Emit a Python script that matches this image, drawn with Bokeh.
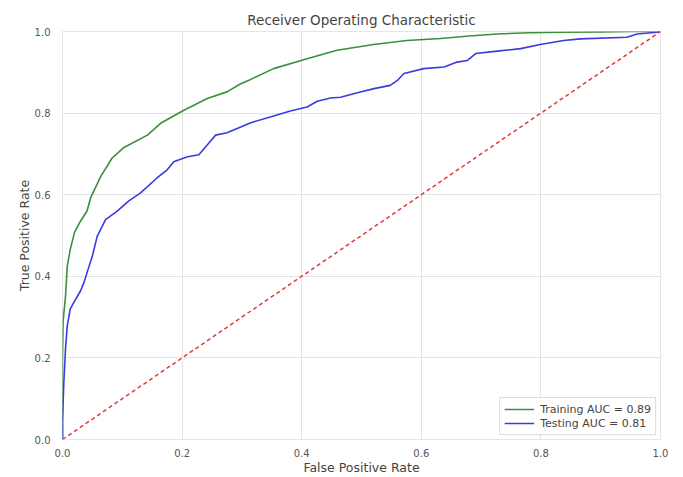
from bokeh.plotting import figure
from bokeh.models import Legend, LegendItem, FixedTicker, CustomJSTickFormatter
from bokeh.embed import file_html
from bokeh.resources import INLINE

# Training ROC curve (green)
train_fpr = [0.0, 0.0, 0.001, 0.005, 0.008, 0.013, 0.02, 0.03, 0.041, 0.047, 0.064, 0.083,
             0.102, 0.142, 0.164, 0.203, 0.242, 0.275, 0.298, 0.314, 0.353, 0.409, 0.459,
             0.52, 0.576, 0.632, 0.68, 0.727, 0.78, 0.838, 0.9, 0.95, 1.0]
train_tpr = [0.0, 0.2, 0.29, 0.35, 0.425, 0.466, 0.507, 0.535, 0.56, 0.592, 0.645, 0.69,
             0.715, 0.746, 0.775, 0.807, 0.836, 0.852, 0.872, 0.882, 0.909, 0.933, 0.954,
             0.968, 0.978, 0.983, 0.989, 0.994, 0.997, 0.998, 0.999, 1.0, 1.0]

# Testing ROC curve (blue)
test_fpr = [0.0, 0.0, 0.002, 0.005, 0.008, 0.013, 0.019, 0.03, 0.036, 0.041, 0.05, 0.058,
            0.072, 0.091, 0.111, 0.13, 0.158, 0.175, 0.186, 0.209, 0.228, 0.242, 0.256,
            0.275, 0.298, 0.314, 0.353, 0.381, 0.409, 0.426, 0.448, 0.465, 0.493, 0.521,
            0.548, 0.56, 0.571, 0.604, 0.638, 0.66, 0.677, 0.691, 0.727, 0.766, 0.799,
            0.838, 0.866, 0.944, 0.961, 0.994, 1.0]
test_tpr = [0.0, 0.044, 0.132, 0.222, 0.279, 0.32, 0.336, 0.364, 0.385, 0.409, 0.45, 0.498,
            0.539, 0.559, 0.585, 0.604, 0.641, 0.661, 0.681, 0.693, 0.698, 0.722, 0.746,
            0.752, 0.766, 0.776, 0.793, 0.805, 0.815, 0.829, 0.837, 0.839, 0.85, 0.86,
            0.868, 0.88, 0.897, 0.909, 0.913, 0.925, 0.929, 0.946, 0.952, 0.958, 0.968,
            0.978, 0.982, 0.986, 0.994, 0.998, 1.0]

chance = [0.0, 1.0]
ticks = [0.0, 0.2, 0.4, 0.6, 0.8, 1.0]
labels = ["Training AUC = 0.89", "Testing AUC = 0.81"]

FONT = "DejaVu Sans"
TXT = "#555555"

p = figure(width=675, height=477, output_backend="svg", toolbar_location=None,
           x_range=(0, 1), y_range=(0, 1),
           title="Receiver Operating Characteristic",
           min_border_left=62, min_border_right=15, min_border_top=31, min_border_bottom=30)

p.title.align = "center"
p.title.text_font = FONT
p.title.text_font_size = "13.5px"
p.title.text_font_style = "normal"
p.title.text_color = "#444444"
p.title.offset = 0
p.title.standoff = 7

p.background_fill_color = "white"
p.border_fill_color = "white"
p.outline_line_color = "#e6e6e6"

fmt = CustomJSTickFormatter(code="return tick.toFixed(1);")
for ax in (p.xaxis[0], p.yaxis[0]):
    ax.ticker = FixedTicker(ticks=ticks)
    ax.formatter = fmt
    ax.axis_line_color = None
    ax.major_tick_line_color = None
    ax.minor_tick_line_color = None
    ax.major_label_text_font = FONT
    ax.major_label_text_font_size = "10px"
    ax.major_label_text_color = TXT
    ax.axis_label_text_font = FONT
    ax.axis_label_text_font_size = "12.5px"
    ax.axis_label_text_font_style = "normal"
    ax.axis_label_text_color = "#444444"
    ax.major_label_standoff = 3
    ax.axis_label_standoff = 0

p.yaxis[0].major_label_standoff = 6

p.xaxis.axis_label = "False Positive Rate"
p.yaxis.axis_label = "True Positive Rate"

p.xgrid.ticker = FixedTicker(ticks=ticks)
p.ygrid.ticker = FixedTicker(ticks=ticks)
p.grid.grid_line_color = "#e3e3e3"
p.grid.grid_line_width = 1

r1 = p.line(train_fpr, train_tpr, line_color="#3a8f3a", line_width=1.6)
r2 = p.line(test_fpr, test_tpr, line_color="#3a3ae0", line_width=1.6)
p.line(chance, chance, line_color="#e03a3a", line_width=1.5, line_dash="4 3")

legend = Legend(items=[LegendItem(label=labels[0], renderers=[r1]),
                       LegendItem(label=labels[1], renderers=[r2])],
                location="bottom_right")
legend.label_text_font = FONT
legend.label_text_font_size = "11px"
legend.label_text_color = "#444444"
legend.border_line_color = "#dddddd"
legend.border_line_alpha = 1
legend.background_fill_alpha = 0.9
legend.glyph_width = 30
legend.glyph_height = 14
legend.label_height = 14
legend.spacing = 0
legend.padding = 4
legend.margin = 4
legend.label_standoff = 6
p.add_layout(legend)

open("out.html", "w").write(file_html(p, INLINE))
